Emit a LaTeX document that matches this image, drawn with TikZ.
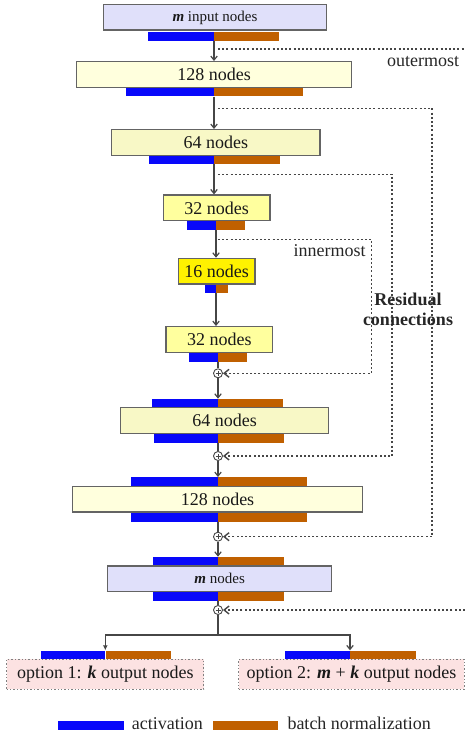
\documentclass[tikz,border=0pt]{standalone}
\usepackage{fontspec}
\setmainfont{Liberation Serif}
\usepackage{tikz}
\usetikzlibrary{arrows.meta,calc}
\definecolor{actblue}{RGB}{8,8,250}
\definecolor{bnorange}{RGB}{192,96,0}
\definecolor{pale128}{RGB}{255,255,221}
\definecolor{pale64}{RGB}{248,248,198}
\definecolor{mid32}{RGB}{255,255,158}
\definecolor{lav}{RGB}{224,224,250}
\definecolor{rose}{RGB}{252,226,226}
\definecolor{edgegray}{RGB}{100,100,100}
\definecolor{wiregray}{RGB}{70,70,70}
\tikzset{%
  layer/.style   = {draw=edgegray, line width=1.4pt, rectangle, inner sep=0pt,
    minimum height=25.6pt, text=black!90, font=\fontsize{18}{20}\selectfont},
  mlayer/.style  = {layer, fill=lav, font=\fontsize{15}{17}\selectfont},
  optlayer/.style = {layer, draw=gray, dotted, line width=1pt, fill=rose,
    minimum height=29.7pt},
  act/.style     = {fill=actblue, inner sep=0pt, minimum height=9pt, anchor=north east},
  bnorm/.style   = {fill=bnorange, inner sep=0pt, minimum height=9pt, anchor=north west},
  sum/.style     = {draw=wiregray, circle, line width=0.9pt, fill=white, inner sep=0pt,
    minimum size=9pt, path picture={
      \draw[line width=0.5pt] ([xshift=-2.5pt]path picture bounding box.center)
        -- ([xshift=2.5pt]path picture bounding box.center);
      \draw[line width=0.5pt] ([yshift=-2.5pt]path picture bounding box.center)
        -- ([yshift=2.5pt]path picture bounding box.center);}}, % adder
  link/.style    = {draw=wiregray, line width=1.2pt},
  flow/.style    = {link, -{Straight Barb[length=4pt,width=6.5pt]}},
  resid/.style   = {draw=wiregray, line width=1.4pt, dash pattern=on 2pt off 2.2pt},
  back/.style    = {resid, -{Straight Barb[length=5pt,width=8pt]}},
  note/.style    = {text=black!85, font=\fontsize{18}{20.5}\selectfont}
}
% blue/orange pair under or over a layer: name, split x, top y, blue width, orange width
\newcommand{\barpair}[5]{%
  \node[act, minimum width=#4pt] (#1a) at (#2,#3) {};
  \node[bnorm, minimum width=#5pt] (#1b) at (#2,#3) {};
}
\newcommand{\bi}[1]{\textbf{\textit{#1}}}

\begin{document}
\begin{tikzpicture}[x=1pt, y=-1pt]
  \useasboundingbox (0,0) rectangle (465,735);

  % bars
  \barpair{b0}{214}{31.7}{65.7}{64.3}
  \barpair{b1}{214}{87.3}{88}{88.3}
  \barpair{b2}{214}{155}{65}{65.7}
  \barpair{b3}{216}{221}{29}{28.6}
  \barpair{b4}{216}{284}{11}{11.7}
  \barpair{b5}{218}{352.3}{28.7}{29}
  \barpair{b6}{218}{398.7}{65.6}{64.4}
  \barpair{b7}{218}{433.3}{64.3}{65.7}
  \barpair{b8}{218}{477}{87.3}{88.7}
  \barpair{b9}{218}{512.3}{87.3}{88.7}
  \barpair{b10}{218}{556.7}{64.7}{65.3}
  \barpair{b11}{218}{591.7}{64.7}{65.3}
  \barpair{b12}{105.3}{650.3}{64.6}{65.4}
  \barpair{b13}{350}{650.3}{65}{65.7}

  % layers
  \node[mlayer, minimum width=223.4pt] (inp) at (215,17.4) {\bi{m} input nodes};
  \node[layer, fill=pale128, minimum width=275pt] (l128a) at (214.2,74.5) {128 nodes};
  \node[layer, fill=pale64, minimum width=208.3pt] (l64a) at (215.9,142.5) {64 nodes};
  \node[layer, fill=mid32, minimum width=106.7pt] (l32a) at (216.7,207.9) {32 nodes};
  \node[layer, fill=yellow, minimum width=76.7pt] (l16) at (216.7,271.2) {16 nodes};
  \node[layer, fill=mid32, minimum width=106.7pt] (l32b) at (219.3,339.5) {32 nodes};
  \node[layer, fill=pale64, minimum width=208pt] (l64b) at (224.7,420.5) {64 nodes};
  \node[layer, fill=pale128, minimum width=290pt] (l128b) at (217.5,499.2) {128 nodes};
  \node[mlayer, minimum width=224pt] (lm) at (219.7,578.7) {\bi{m} nodes};
  \node[optlayer, minimum width=197.3pt] (opt1) at (105.3,674.2) {option 1: \bi{k} output nodes};
  \node[optlayer, minimum width=225.6pt] (opt2) at (351.5,674.2) {option 2: \bi{m} + \bi{k} output nodes};

  % adders
  \node[sum] (s1) at (218,373.3) {};
  \node[sum] (s2) at (218,456) {};
  \node[sum] (s3) at (218,536.7) {};
  \node[sum] (s4) at (218,610) {};

  % main path
  \draw[flow] (b0a.south east) -- (b0a.south east |- l128a.north);
  \draw[flow] (b1a.south east) -- (b1a.south east |- l64a.north);
  \draw[flow] (b2a.south east) -- (b2a.south east |- l32a.north);
  \draw[flow] (b3a.south east) -- (b3a.south east |- l16.north);
  \draw[flow] (b4a.south east) -- (b4a.south east |- l32b.north);
  \draw[link] (b5a.south east) -- (s1);
  \draw[flow] (s1) -- (b6a.north east);
  \draw[link] (b7a.south east) -- (s2);
  \draw[flow] (s2) -- (b8a.north east);
  \draw[link] (b9a.south east) -- (s3);
  \draw[flow] (s3) -- (b10a.north east);
  \draw[link] (b11a.south east) -- (s4);
  \coordinate (fork) at (218,635);
  \draw[link] (s4) -- (fork);
  \draw[link, -{Latex[length=5pt,width=5pt]}] (fork) -| (b12a.north east);
  \draw[flow] (fork) -| (b13a.north east);

  % residual connections
  \coordinate (r1s) at (218,49);
  \coordinate (r1e) at (465,49);
  \coordinate (r1b) at (465,610);
  \coordinate (r2s) at (218,108.3);
  \coordinate (r2c) at (432,108.3);
  \coordinate (r3s) at (218,174.3);
  \coordinate (r3c) at (392,174.3);
  \coordinate (r4s) at (218,239.3);
  \coordinate (r4c) at (371.7,239.3);
  \draw[resid] (r1s) -- (r1e);
  \draw[back] (r1b) -- (s4);
  \draw[back] (r2s) -- (r2c) |- (s3);
  \draw[back] (r3s) -- (r3c) |- (s2);
  \draw[back] (r4s) -- (r4c) |- (s1);

  % labels
  \node[note] (outer) at (423,61.7) {outermost};
  \node[note] (inner) at (329.5,251) {innermost};
  \node[note, font=\bfseries\fontsize{18}{20.5}\selectfont, align=center] (residtxt)
    at (408,309.3) {Residual\\connections};

  % legend
  \node[act, minimum width=65.7pt] (legact) at (124,721) {};
  \node[bnorm, minimum width=64.6pt] (legbn) at (212.7,721) {};
  \node[note, anchor=base west, inner sep=0pt] (legacttxt) at (131.7,729.5) {activation};
  \node[note, anchor=base west, inner sep=0pt] (legbntxt) at (287.3,729.5) {batch normalization};
\end{tikzpicture}
\end{document}
